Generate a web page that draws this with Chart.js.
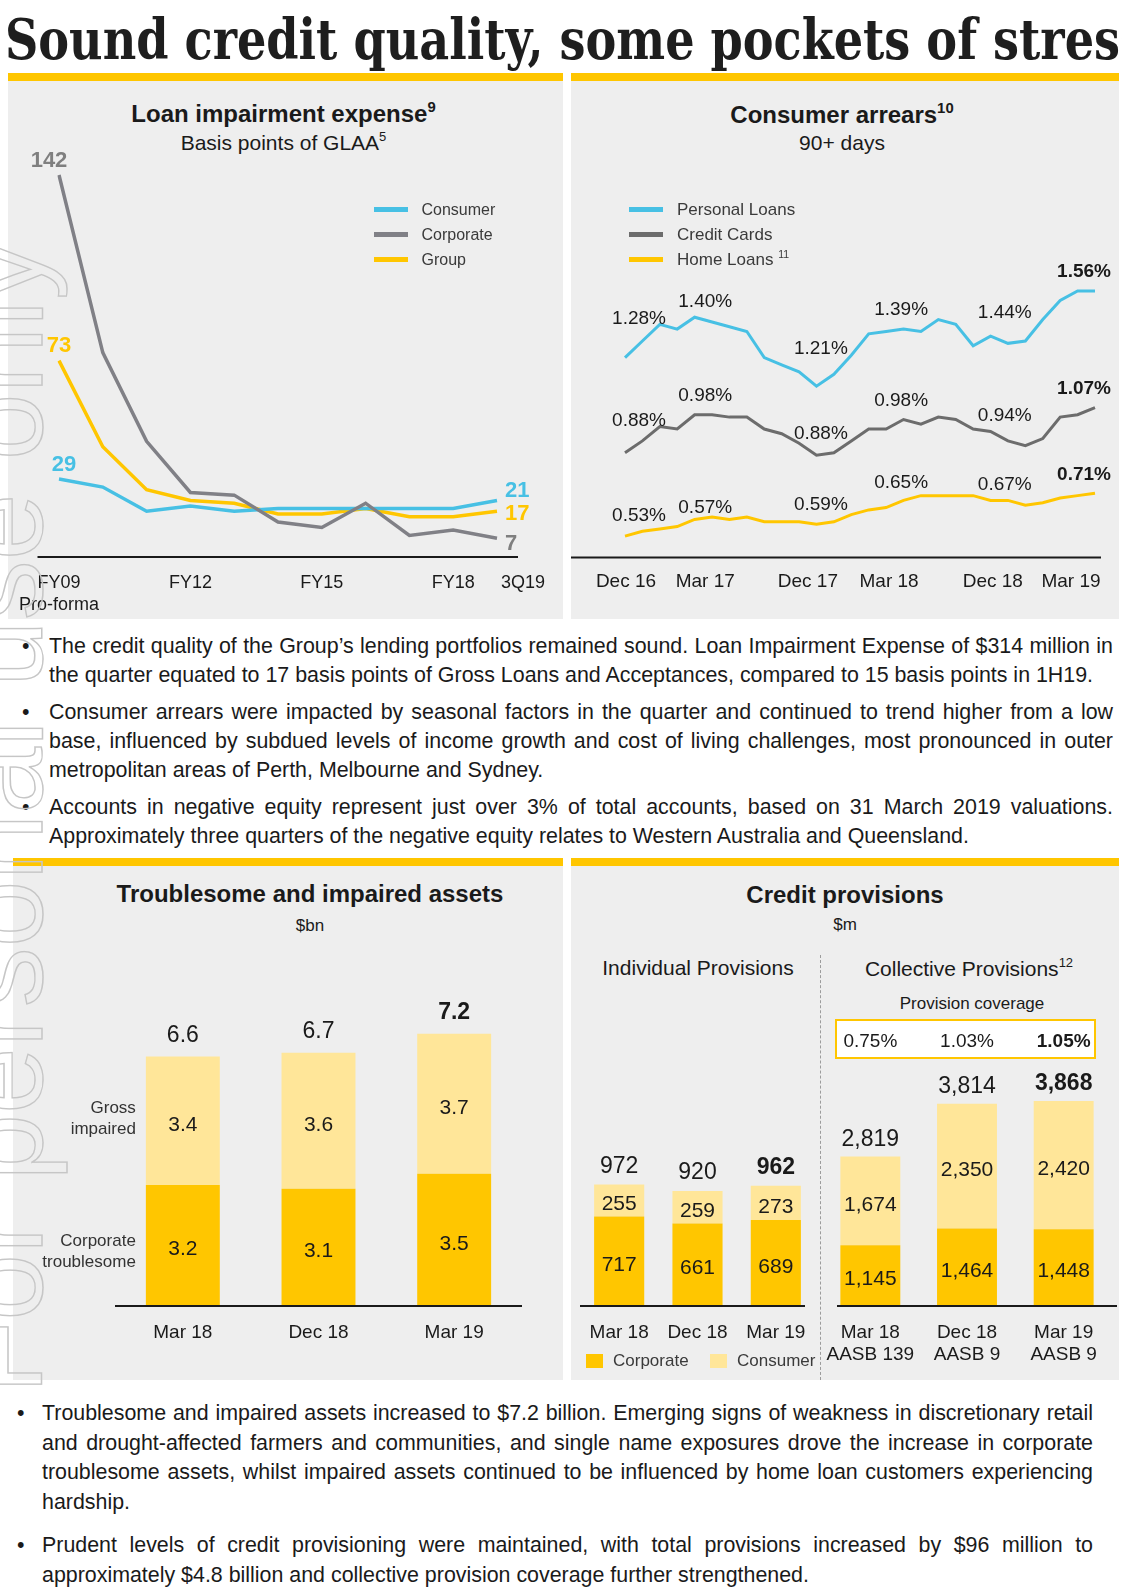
<!DOCTYPE html>
<html>
<head>
<meta charset="utf-8">
<title>Sound credit quality, some pockets of stress</title>
<script src="https://cdn.jsdelivr.net/npm/chart.js@4.4.1/dist/chart.umd.min.js"></script>
<style>
  html, body { margin: 0; padding: 0; background: #fff; }
  body { width: 1122px; height: 1593px; position: relative; overflow: hidden;
         font-family: "Liberation Sans", Arial, sans-serif; color: #1a1a1a; }
  .abs { position: absolute; }
  .panel { position: absolute; background: #eeeeee; border-top: 8px solid #ffc600; box-sizing: border-box; }
  canvas { position: absolute; }
  .ttl { position: absolute; text-align: center; font-weight: bold; font-size: 24px; line-height: 28px; white-space: nowrap; }
  .sub { position: absolute; text-align: center; font-size: 21px; line-height: 24px; white-space: nowrap; }
  sup { font-size: 0.62em; line-height: 0; vertical-align: 0.7em; }
  .legend { position: absolute; color: #3a3a3a; white-space: nowrap; }
  .legend div { position: relative; height: 25px; line-height: 25px; padding-left: 48px; }
  .legend i { position: absolute; left: 0; top: 10px; width: 34px; height: 5px; }
  .bullets { position: absolute; font-size: 21.4px; }
  .bullets p { margin: 0; position: relative; }
  .bullets p::before { content: "\2022"; position: absolute; top: 0; }
  .bullets.top p::before { left: -27px; }
  .bullets.bottom p::before { left: -25px; }
  .bullets span { display: block; text-align: justify; text-align-last: justify; white-space: nowrap; }
  .bullets span.end { text-align: left; text-align-last: left; }
  #mainTitle { position: absolute; left: 5px; top: 11px; white-space: nowrap; color: #1e1e1e;
               font-family: "DejaVu Serif Condensed", "DejaVu Serif", serif; font-weight: bold;
               font-size: 56px; line-height: 56px; transform-origin: 0 0; }
  #watermark { position: absolute; left: 0; top: 0; white-space: nowrap; pointer-events: none; z-index: 5;
               font-family: "Liberation Sans", Arial, sans-serif; font-size: 120px; line-height: 120px;
               color: transparent; -webkit-text-stroke: 1.4px #c6c6c6;
               transform-origin: 0 0; transform: translate(-60px, 1394px) rotate(-90deg); }
</style>
</head>
<body>

<div id="mainTitle">Sound credit quality, some pockets of stress</div>

<div class="panel" style="left:8px;top:73px;width:555px;height:546px"></div>
<div class="panel" style="left:571px;top:73px;width:548px;height:546px"></div>
<div class="panel" style="left:13px;top:858px;width:550px;height:522px"></div>
<div class="panel" style="left:571px;top:858px;width:548px;height:522px"></div>

<div class="ttl" style="left:6px;width:555px;top:100px">Loan impairment expense<sup>9</sup></div>
<div class="sub" style="left:6px;width:555px;top:131px">Basis points of GLAA<sup>5</sup></div>
<div class="ttl" style="left:568px;width:548px;top:101px">Consumer arrears<sup>10</sup></div>
<div class="sub" style="left:568px;width:548px;top:131px">90+ days</div>

<div class="ttl" style="left:35px;width:550px;top:880px">Troublesome and impaired assets</div>
<div class="sub" style="left:35px;width:550px;top:916px;font-size:17px;line-height:20px">$bn</div>
<div class="ttl" style="left:571px;width:548px;top:881px">Credit provisions</div>
<div class="sub" style="left:571px;width:548px;top:915px;font-size:17px;line-height:20px">$m</div>
<div class="sub" style="left:578px;width:240px;top:956px">Individual Provisions</div>
<div class="sub" style="left:849px;width:240px;top:957px">Collective Provisions<sup>12</sup></div>
<div class="sub" style="left:872px;width:200px;top:994px;font-size:17px;line-height:20px">Provision coverage</div>
<div class="abs" style="left:835px;top:1019px;width:261px;height:40px;box-sizing:border-box;border:2px solid #ffc600;background:#fff"></div>
<div class="abs" style="left:820px;top:955px;height:425px;border-left:1px dashed #9c9c9c"></div>

<canvas id="cvLie"></canvas>
<canvas id="cvArr"></canvas>
<canvas id="cvTia"></canvas>
<canvas id="cvInd"></canvas>
<canvas id="cvCol"></canvas>

<div class="bullets top" style="left:49px;top:632px;width:1064px;line-height:29px">
  <p style="margin-bottom:8px"><span>The credit quality of the Group’s lending portfolios remained sound. Loan Impairment Expense of $314 million in</span><span class="end">the quarter equated to 17 basis points of Gross Loans and Acceptances, compared to 15 basis points in 1H19.</span></p>
  <p style="margin-bottom:8px"><span>Consumer arrears were impacted by seasonal factors in the quarter and continued to trend higher from a low</span><span>base, influenced by subdued levels of income growth and cost of living challenges, most pronounced in outer</span><span class="end">metropolitan areas of Perth, Melbourne and Sydney.</span></p>
  <p><span>Accounts in negative equity represent just over 3% of total accounts, based on 31 March 2019 valuations.</span><span class="end">Approximately three quarters of the negative equity relates to Western Australia and Queensland.</span></p>
</div>
<div class="bullets bottom" style="left:42px;top:1399px;width:1051px;line-height:29.7px">
  <p style="margin-bottom:13px"><span>Troublesome and impaired assets increased to $7.2 billion. Emerging signs of weakness in discretionary retail</span><span>and drought-affected farmers and communities, and single name exposures drove the increase in corporate</span><span>troublesome assets, whilst impaired assets continued to be influenced by home loan customers experiencing</span><span class="end">hardship.</span></p>
  <p><span>Prudent levels of credit provisioning were maintained, with total provisions increased by $96 million to</span><span class="end">approximately $4.8 billion and collective provision coverage further strengthened.</span></p>
</div>

<div id="watermark">For personal use only</div>

<script>
// ---------- data ----------
// Loan impairment expense, basis points of GLAA
const lieYears = ['FY09','FY10','FY11','FY12','FY13','FY14','FY15','FY16','FY17','FY18','3Q19'];
const lieTicks = ['FY09','FY12','FY15','FY18','3Q19'];
const lieFirstNote = 'Pro-forma';
const lieConsumer  = [29, 26, 17, 19, 17, 18, 18, 18, 18, 18, 21];
const lieCorporate = [142, 76, 43, 24, 23, 13, 11, 20, 8, 10, 7];
const lieGroup     = [73, 41, 25, 21, 20, 16, 16, 18, 15, 15, 17];

// Consumer arrears, 90+ days (%)
const arrMonths = ['Dec 16','Jan 17','Feb 17','Mar 17','Apr 17','May 17','Jun 17','Jul 17','Aug 17','Sep 17',
                   'Oct 17','Nov 17','Dec 17','Jan 18','Feb 18','Mar 18','Apr 18','May 18','Jun 18','Jul 18',
                   'Aug 18','Sep 18','Oct 18','Nov 18','Dec 18','Jan 19','Feb 19','Mar 19'];
const arrTicks = ['Dec 16','Mar 17','Dec 17','Mar 18','Dec 18','Mar 19'];
const arrPersonal = [1.28,1.35,1.42,1.40,1.45,1.43,1.41,1.39,1.28,1.25,1.22,1.16,1.21,1.29,1.38,1.39,1.40,1.39,1.44,1.42,1.33,1.37,1.34,1.35,1.44,1.52,1.56,1.56];
const arrCards    = [0.88,0.93,0.99,0.98,1.04,1.04,1.03,1.03,0.98,0.96,0.92,0.87,0.88,0.93,0.98,0.98,1.02,1.00,1.03,1.02,0.98,0.97,0.93,0.91,0.94,1.03,1.04,1.07];
const arrHome     = [0.53,0.55,0.56,0.57,0.60,0.61,0.60,0.61,0.59,0.59,0.59,0.58,0.59,0.62,0.64,0.65,0.68,0.70,0.70,0.70,0.70,0.68,0.68,0.66,0.67,0.69,0.70,0.71];

// Troublesome and impaired assets, $bn
const tiaPeriods   = ['Mar 18','Dec 18','Mar 19'];
const tiaCorporate = [3.2, 3.1, 3.5];
const tiaImpaired  = [3.4, 3.6, 3.7];

// Credit provisions, $m
const provIndPeriods   = ['Mar 18','Dec 18','Mar 19'];
const provIndCorporate = [717, 661, 689];
const provIndConsumer  = [255, 259, 273];
const provColPeriods   = [['Mar 18','AASB 139'],['Dec 18','AASB 9'],['Mar 19','AASB 9']];
const provColCorporate = [1145, 1464, 1448];
const provColConsumer  = [1674, 2350, 2420];
const provCoverage     = ['0.75%','1.03%','1.05%'];

// ---------- look ----------
const SANS = '"Liberation Sans", Arial, sans-serif';
const INK = '#1a1a1a';
const YELLOW = '#ffc600';
const PALE = '#ffe699';
const BLUE = '#47c0e4';
const GREY = '#808086';
const GREY_DARK = '#6c6c6c';

Chart.defaults.font.family = SANS;
Chart.defaults.animation = false;

function put(id, box) {
  const cv = document.getElementById(id);
  cv.width = box.w; cv.height = box.h;
  cv.style.left = box.x + 'px'; cv.style.top = box.y + 'px';
  return cv;
}
function padFor(box, area) {
  return { left: area.l - box.x, right: box.x + box.w - area.r, top: area.t - box.y, bottom: box.y + box.h - area.b };
}
function text(ctx, s, x, y, font, color, align) {
  ctx.font = font; ctx.fillStyle = color; ctx.textAlign = align || 'center'; ctx.textBaseline = 'middle';
  ctx.fillText(s, x, y);
}
function axisLine(ctx, x0, x1, y) {
  ctx.strokeStyle = INK; ctx.lineWidth = 2;
  ctx.beginPath(); ctx.moveTo(x0, y); ctx.lineTo(x1, y); ctx.stroke();
}
function lineLegend(left, top, size, rows) {
  const el = document.createElement('div');
  el.className = 'legend';
  el.style.left = left + 'px'; el.style.top = top + 'px'; el.style.fontSize = size + 'px';
  rows.forEach(r => {
    const d = document.createElement('div');
    d.innerHTML = '<i style="background:' + r.color + '"></i>' + r.name + (r.note ? ' <sup>' + r.note + '</sup>' : '');
    el.appendChild(d);
  });
  document.body.appendChild(el);
}
function baseOptions(box, area, x, y) {
  return {
    responsive: false, animation: false,
    layout: { padding: padFor(box, area) },
    plugins: { legend: { display: false }, tooltip: { enabled: false } },
    scales: { x: Object.assign({ display: false }, x), y: Object.assign({ display: false }, y) }
  };
}

// fit the slab title so that it runs off the right edge like the slide
(function fitTitle() {
  const el = document.getElementById('mainTitle');
  const cs = getComputedStyle(el);
  const c = document.createElement('canvas').getContext('2d');
  c.font = cs.fontWeight + ' ' + cs.fontSize + ' ' + cs.fontFamily;
  const w = c.measureText('Sound credit quality, some pockets of stres').width;
  el.style.transform = 'scaleX(' + (1115 / w).toFixed(4) + ')';
})();

// ---------- 1. Loan impairment expense ----------
const lieSeries = [
  { name: 'Corporate', data: lieCorporate, color: GREY,   label: '#7f7f7f', fdx: -10, fdy: -14, ldy: 6 },
  { name: 'Consumer',  data: lieConsumer,  color: BLUE,   label: BLUE,      fdx: 5,   fdy: -14, ldy: -10 },
  { name: 'Group',     data: lieGroup,     color: YELLOW, label: YELLOW,    fdx: 0,   fdy: -15, ldy: 3 }
];
const lieBox = { x: 8, y: 73, w: 555, h: 546 };
const lieArea = { l: 59, r: 497, t: 153.5, b: 557 };
new Chart(put('cvLie', lieBox), {
  type: 'line',
  data: { labels: lieYears, datasets: lieSeries.map(s => ({
    label: s.name, data: s.data, borderColor: s.color, borderWidth: 3.5, pointRadius: 0, tension: 0, fill: false })) },
  options: baseOptions(lieBox, lieArea, { type: 'category', offset: false }, { min: 0, max: 150 }),
  plugins: [{
    id: 'lieLabels',
    afterDatasetsDraw(chart) {
      const { ctx, chartArea: a, scales: { x, y } } = chart;
      ctx.save();
      axisLine(ctx, a.left - 21.5, a.right + 21, a.bottom);
      lieTicks.forEach(t => {
        const i = lieYears.indexOf(t);
        if (i === lieYears.length - 1) text(ctx, t, a.right + 4, a.bottom + 26, '18px ' + SANS, INK, 'left');
        else text(ctx, t, x.getPixelForValue(i), a.bottom + 26, '18px ' + SANS, INK);
      });
      text(ctx, lieFirstNote, x.getPixelForValue(0), a.bottom + 48, '18px ' + SANS, INK);
      const n = lieYears.length - 1;
      lieSeries.forEach(s => {
        text(ctx, String(s.data[0]), x.getPixelForValue(0) + s.fdx, y.getPixelForValue(s.data[0]) + s.fdy, 'bold 22px ' + SANS, s.label);
        text(ctx, String(s.data[n]), x.getPixelForValue(n) + 8, y.getPixelForValue(s.data[n]) + s.ldy, 'bold 22px ' + SANS, s.label, 'left');
      });
      ctx.restore();
    }
  }]
});
lineLegend(373.5, 196.5, 16, [
  { name: 'Consumer', color: BLUE }, { name: 'Corporate', color: GREY }, { name: 'Group', color: YELLOW }
]);

// ---------- 2. Consumer arrears ----------
// label lifts per quarter label (Dec 16, Mar 17, Dec 17, Mar 18, Dec 18, Mar 19)
const arrSeries = [
  { name: 'Personal Loans', data: arrPersonal, color: BLUE,      lift: [-39, -27, -26, -22, -7, -19] },
  { name: 'Credit Cards',   data: arrCards,    color: GREY_DARK, lift: [-32, -33, -19, -28, -23, -19] },
  { name: 'Home Loans',     data: arrHome,     color: YELLOW,    lift: [-20, -19, -17, -25, -18, -18], note: '11' }
];
const arrTickNudge  = [1, 28, -26, 3, -50, -24];
const arrValueNudge = [14, 28, -13, 15, -38, -11];
const arrBox = { x: 571, y: 73, w: 548, h: 546 };
const arrArea = { l: 625, r: 1095, t: 257.7, b: 557.5 };
new Chart(put('cvArr', arrBox), {
  type: 'line',
  data: { labels: arrMonths, datasets: arrSeries.map(s => ({
    label: s.name, data: s.data, borderColor: s.color, borderWidth: 3, pointRadius: 0, tension: 0, fill: false })) },
  options: baseOptions(arrBox, arrArea, { type: 'category', offset: false }, { min: 0.44, max: 1.70 }),
  plugins: [{
    id: 'arrLabels',
    afterDatasetsDraw(chart) {
      const { ctx, chartArea: a, scales: { x, y } } = chart;
      ctx.save();
      axisLine(ctx, a.left - 54, a.right + 6, a.bottom);
      arrTicks.forEach((t, k) => {
        const i = arrMonths.indexOf(t);
        const last = k === arrTicks.length - 1;
        text(ctx, t, x.getPixelForValue(i) + arrTickNudge[k], a.bottom + 24, '19px ' + SANS, INK);
        arrSeries.forEach(s => {
          text(ctx, s.data[i].toFixed(2) + '%', x.getPixelForValue(i) + arrValueNudge[k],
               y.getPixelForValue(s.data[i]) + s.lift[k], (last ? 'bold ' : '') + '19px ' + SANS, INK);
        });
      });
      ctx.restore();
    }
  }]
});
lineLegend(629, 196.5, 17, arrSeries.map(s => ({ name: s.name, color: s.color, note: s.note })));

// ---------- stacked bar helpers ----------
function stackLabels(cfg) {
  return {
    id: cfg.id,
    afterDatasetsDraw(chart) {
      const { ctx, chartArea: a, scales: { x, y } } = chart;
      ctx.save();
      axisLine(ctx, a.left + cfg.axisIn[0], a.right + cfg.axisIn[1], a.bottom);
      cfg.periods.forEach((p, i) => {
        const cx = x.getPixelForValue(i);
        const lo = cfg.lower[i], hi = cfg.upper[i], tot = lo + hi;
        const y0 = y.getPixelForValue(0), y1 = y.getPixelForValue(lo), y2 = y.getPixelForValue(tot);
        const last = i === cfg.periods.length - 1;
        text(ctx, cfg.fmt(lo), cx, (y0 + y1) / 2 + 4, '21px ' + SANS, INK);
        text(ctx, cfg.fmt(hi), cx, (y1 + y2) / 2 + 4, '21px ' + SANS, INK);
        text(ctx, cfg.fmt(tot), cx, y2 - cfg.totLift, (last ? 'bold ' : '') + '23px ' + SANS, INK);
        [].concat(p).forEach((line, k) => text(ctx, line, cx, a.bottom + 27 + k * 22, '19px ' + SANS, INK));
      });
      if (cfg.extra) cfg.extra(chart);
      ctx.restore();
    }
  };
}
function stackChart(id, box, area, periods, lower, upper, yMax, barPct, plugin) {
  return new Chart(put(id, box), {
    type: 'bar',
    data: { labels: periods.map(p => [].concat(p).join(' ')), datasets: [
      { data: lower, backgroundColor: YELLOW, borderWidth: 0, categoryPercentage: 1, barPercentage: barPct },
      { data: upper, backgroundColor: PALE,   borderWidth: 0, categoryPercentage: 1, barPercentage: barPct }
    ] },
    options: baseOptions(box, area, { stacked: true }, { stacked: true, min: 0, max: yMax }),
    plugins: [plugin]
  });
}

// ---------- 3. Troublesome and impaired assets ----------
const tiaBox = { x: 13, y: 858, w: 550, h: 522 };
stackChart('cvTia', tiaBox, { l: 115, r: 522, t: 1003.6, b: 1306 }, tiaPeriods, tiaCorporate, tiaImpaired, 8, 0.545,
  stackLabels({
    id: 'tiaLabels', periods: tiaPeriods, lower: tiaCorporate, upper: tiaImpaired,
    fmt: v => v.toFixed(1), totLift: 21, axisIn: [0, 0],
    extra(chart) {
      const { ctx, scales: { y } } = chart;
      const bar = chart.getDatasetMeta(0).data[0];
      const right = bar.x - bar.width / 2 - 10;
      const lo = tiaCorporate[0], tot = tiaCorporate[0] + tiaImpaired[0];
      const midLo = (y.getPixelForValue(0) + y.getPixelForValue(lo)) / 2;
      const midHi = (y.getPixelForValue(lo) + y.getPixelForValue(tot)) / 2;
      [['Corporate', 'troublesome', midLo + 6], ['Gross', 'impaired', midHi - 2]].forEach(([a, b, m]) => {
        text(ctx, a, right, m - 10.5, '17px ' + SANS, '#333', 'right');
        text(ctx, b, right, m + 10.5, '17px ' + SANS, '#333', 'right');
      });
    }
  }));

// ---------- 4. Credit provisions ----------
const provBox = { x: 571, y: 858, w: 548, h: 522 };
const fmtM = v => v.toLocaleString('en-US');
stackChart('cvInd', provBox, { l: 580, r: 815, t: 1056, b: 1306 }, provIndPeriods, provIndCorporate, provIndConsumer, 2000, 0.64,
  stackLabels({ id: 'indLabels', periods: provIndPeriods, lower: provIndCorporate, upper: provIndConsumer,
                fmt: fmtM, totLift: 18, axisIn: [0, -10] }));
stackChart('cvCol', provBox, { l: 822, r: 1112, t: 1041, b: 1306 }, provColPeriods, provColCorporate, provColConsumer, 5000, 0.62,
  stackLabels({ id: 'colLabels', periods: provColPeriods, lower: provColCorporate, upper: provColConsumer,
                fmt: fmtM, totLift: 17, axisIn: [15, 5],
                extra(chart) {
                  const { ctx, scales: { x } } = chart;
                  provCoverage.forEach((c, i) => {
                    const last = i === provCoverage.length - 1;
                    text(ctx, c, x.getPixelForValue(i), 1042 - provBox.y, (last ? 'bold ' : '') + '19px ' + SANS, INK);
                  });
                } }));

// legend under the individual bars
[['Corporate', YELLOW, 586], ['Consumer', PALE, 710]].forEach(([name, color, left]) => {
  const sq = document.createElement('div');
  sq.className = 'abs';
  sq.style.cssText = 'left:' + left + 'px;top:1354px;width:17px;height:14px;background:' + color;
  const tx = document.createElement('div');
  tx.className = 'abs';
  tx.style.cssText = 'left:' + (left + 27) + 'px;top:1351px;font-size:17px;line-height:20px;color:#3a3a3a';
  tx.textContent = name;
  document.body.appendChild(sq); document.body.appendChild(tx);
});
</script>
</body>
</html>
